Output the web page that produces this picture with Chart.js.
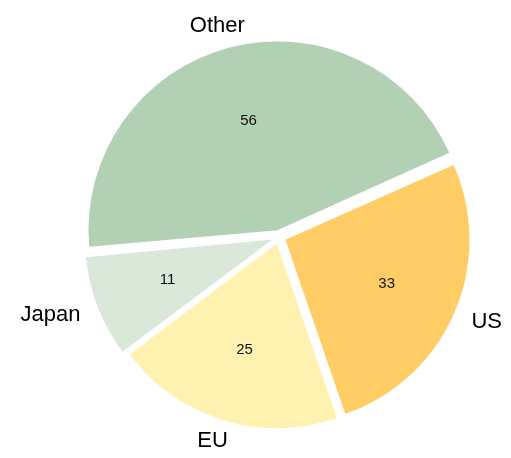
<!DOCTYPE html>
<html>
<head>
<meta charset="utf-8">
<script src="https://cdn.jsdelivr.net/npm/chart.js@4/dist/chart.umd.min.js"></script>
<style>
  html, body { margin: 0; padding: 0; background: #fff; }
  #wrap { width: 511px; height: 458px; }
</style>
</head>
<body>
<div id="wrap"><canvas id="pie"></canvas></div>
<script>
// slice data, drawn clockwise from the upper right
const regions = ["US", "EU", "Japan", "Other"];
const shares = [33, 25, 11, 56];
const sliceColors = ["#ffcc66", "#fff1b0", "#dae8da", "#b2d0b3"];

const FONT = "'Liberation Sans', Arial, sans-serif";

// -----------------------------
// LABELS: names outside, values inside
// -----------------------------
const pieLabels = {
  id: "pieLabels",
  afterDatasetsDraw(chart) {
    const ctx = chart.ctx;
    const meta = chart.getDatasetMeta(0);
    const ds = chart.data.datasets[0];
    meta.data.forEach((arc, i) => {
      const { x, y, startAngle, endAngle, outerRadius } = arc.getProps(
        ["x", "y", "startAngle", "endAngle", "outerRadius"], true);
      const mid = (startAngle + endAngle) / 2;
      const shift = ds.offset / 4;
      const span = endAngle - startAngle;
      const r = outerRadius + shift * (1 - Math.sin(Math.min(Math.PI, span)));
      const cx = x + Math.cos(mid) * shift;
      const cy = y + Math.sin(mid) * shift;
      const cos = Math.cos(mid), sin = Math.sin(mid);

      ctx.save();
      ctx.textAlign = "center";
      ctx.textBaseline = "middle";
      ctx.fillStyle = "#111";

      // value inside the wedge
      ctx.font = "15px " + FONT;
      ctx.fillText(String(ds.data[i]), cx + cos * r * 0.6, cy + sin * r * 0.6);

      // category name just past the rim
      ctx.font = "22px " + FONT;
      const w = ctx.measureText(chart.data.labels[i]).width;
      const ax = cx + cos * r * 1.11 + cos * w / 2;
      const ay = cy + sin * r * 1.1 + sin * 4;
      ctx.fillStyle = "#000";
      ctx.fillText(chart.data.labels[i], ax, ay);
      ctx.restore();
    });
  }
};

new Chart(document.getElementById("pie"), {
  type: "pie",
  data: {
    labels: regions,
    datasets: [{
      data: shares,
      backgroundColor: sliceColors,
      borderWidth: 0,
      offset: 28,
      hoverOffset: 0,
      radius: 184
    }]
  },
  options: {
    responsive: true,
    maintainAspectRatio: false,
    animation: false,
    rotation: 66,
    layout: { padding: { left: 47, top: 16, right: 0, bottom: 0 } },
    plugins: {
      legend: { display: false },
      tooltip: { enabled: false }
    }
  },
  plugins: [pieLabels]
});
</script>
</body>
</html>
